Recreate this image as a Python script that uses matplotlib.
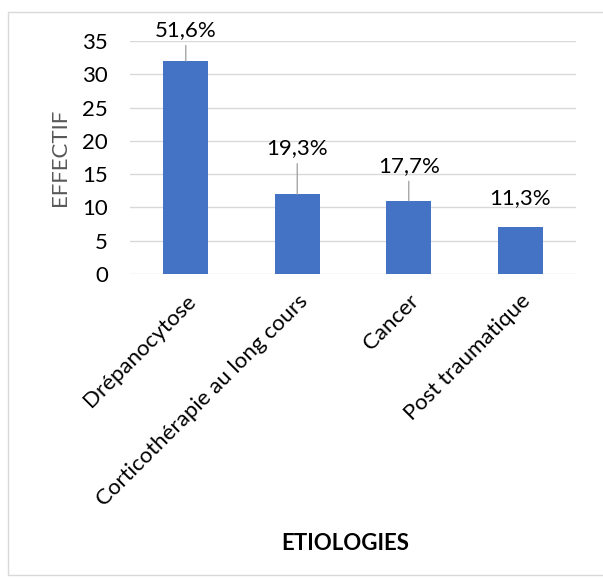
import matplotlib.pyplot as plt
from matplotlib.patches import Rectangle

categories = ["Drépanocytose", "Corticothérapie au long cours", "Cancer", "Post traumatique"]
effectifs = [32, 12, 11, 7]
pourcentages = ["51,6%", "19,3%", "17,7%", "11,3%"]

# label offsets above bar tops (pixels) and whether a leader line is shown
label_offsets = [31, 46, 35, 29]
leader = [True, True, True, False]

plt.rcParams['font.family'] = ['Lato', 'DejaVu Sans']
fs = 16

fig = plt.figure(figsize=(6.03, 5.81), dpi=100)
fig.patches.append(Rectangle((8 / 603, 6 / 581), 1.0, 1 - 18 / 581, transform=fig.transFigure,
                             fill=False, edgecolor='#d9d9d9', linewidth=1))
ax = fig.add_axes([130 / 603, 1 - 274 / 581, 446 / 603, 233 / 581])

x = range(len(categories))
ax.bar(x, effectifs, width=0.4, color='#4472C4', zorder=3)
ax.set_xlim(-0.5, len(categories) - 0.5)
ax.set_ylim(0, 35)
ax.set_yticks(range(0, 36, 5))
ax.grid(axis='y', color='#d9d9d9', linewidth=1, zorder=0)
for s in ax.spines.values():
    s.set_visible(False)
ax.tick_params(axis='both', length=0, labelsize=fs, colors='#000000')
ax.tick_params(axis='y', pad=16)
ax.set_xticks(list(x))
ax.set_xticklabels(categories, rotation=45, ha='right', va='top', rotation_mode='anchor')
ax.tick_params(axis='x', pad=12)

for i, (v, p) in enumerate(zip(effectifs, pourcentages)):
    arrow = dict(arrowstyle='-', color='#a6a6a6', lw=1, shrinkA=2, shrinkB=0) if leader[i] else None
    ax.annotate(p, xy=(i, v), xytext=(0, label_offsets[i]), textcoords='offset pixels',
                ha='center', va='center', fontsize=fs, arrowprops=arrow)

ax.set_ylabel('EFFECTIF', fontsize=fs, color='#595959', va='center')
ax.yaxis.set_label_coords(-70 / 446, 0.5)
fig.text(345 / 603, 1 - 543 / 581, 'ETIOLOGIES', ha='center', va='center',
         fontsize=fs, fontweight='bold')

fig.savefig('out.png', dpi=100)
